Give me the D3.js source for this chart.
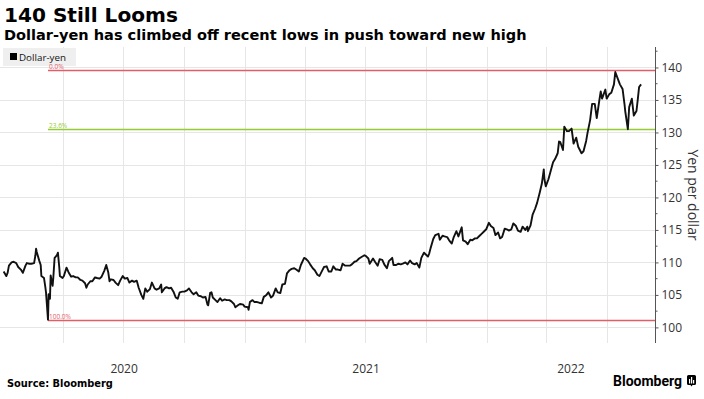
<!DOCTYPE html>
<html><head><meta charset="utf-8">
<script src="https://cdn.jsdelivr.net/npm/d3@7"></script>
<style>html,body{margin:0;padding:0;background:#fff;}svg{display:block;}</style>
</head><body>
<svg id="chart" width="704" height="399"></svg>
<script>
// ---- Data ----
const title = "140 Still Looms";
const subtitle = "Dollar-yen has climbed off recent lows in push toward new high";
const seriesName = "Dollar-yen";
const yAxisTitle = "Yen per dollar";
const source = "Source: Bloomberg";
const yTicks = [100, 105, 110, 115, 120, 125, 130, 135, 140];
const yearLabels = ["2020", "2021", "2022"];
const fibLevels = [139.6, 130.5, 101.18];
const fibLabels = ["0.0%", "23.6%", "100.0%"];
const fibStart = "2020-03-09";

const dollarYen = [
["2020-01-02",108.6],["2020-01-06",107.9],["2020-01-08",108.4],["2020-01-10",109.5],["2020-01-14",110.0],["2020-01-17",110.1],["2020-01-21",109.9],["2020-01-24",109.3],["2020-01-28",108.9],["2020-01-31",108.4],
["2020-02-04",109.5],["2020-02-06",109.9],["2020-02-10",109.8],["2020-02-13",109.8],["2020-02-17",109.9],["2020-02-19",111.1],["2020-02-20",112.1],["2020-02-21",111.6],["2020-02-25",110.2],["2020-02-27",109.6],["2020-02-28",107.9],
["2020-03-03",107.6],["2020-03-05",106.2],["2020-03-06",105.4],["2020-03-09",101.2],["2020-03-10",105.1],["2020-03-12",104.4],["2020-03-13",108.0],["2020-03-16",106.4],["2020-03-17",107.6],["2020-03-19",110.7],["2020-03-20",110.8],["2020-03-23",111.2],["2020-03-24",111.5],["2020-03-26",109.3],["2020-03-27",107.9],["2020-03-31",107.6],
["2020-04-02",107.9],["2020-04-06",109.2],["2020-04-09",108.5],["2020-04-13",107.8],["2020-04-16",107.9],["2020-04-20",107.7],["2020-04-23",107.7],["2020-04-27",107.3],["2020-04-30",107.2],
["2020-05-04",106.8],["2020-05-06",106.1],["2020-05-08",106.6],["2020-05-12",107.1],["2020-05-15",107.1],["2020-05-19",107.7],["2020-05-22",107.6],["2020-05-26",107.5],["2020-05-29",107.8],
["2020-06-02",108.7],["2020-06-05",109.6],["2020-06-08",108.5],["2020-06-10",107.1],["2020-06-12",107.4],["2020-06-16",107.3],["2020-06-19",106.9],["2020-06-23",106.5],["2020-06-26",107.2],["2020-06-30",107.9],
["2020-07-03",107.5],["2020-07-07",107.6],["2020-07-10",106.9],["2020-07-14",107.2],["2020-07-17",107.0],["2020-07-21",107.2],["2020-07-24",106.1],["2020-07-28",105.0],["2020-07-31",104.4],
["2020-08-03",106.0],["2020-08-06",105.5],["2020-08-10",105.9],["2020-08-13",106.9],["2020-08-17",106.0],["2020-08-20",105.8],["2020-08-24",106.0],["2020-08-27",106.6],["2020-08-28",105.4],
["2020-09-01",106.0],["2020-09-04",106.2],["2020-09-08",106.0],["2020-09-11",106.1],["2020-09-15",105.4],["2020-09-18",104.6],["2020-09-21",104.4],["2020-09-24",105.4],["2020-09-28",105.5],
["2020-10-01",105.5],["2020-10-05",105.7],["2020-10-08",106.0],["2020-10-12",105.4],["2020-10-15",105.1],["2020-10-19",105.4],["2020-10-22",104.9],["2020-10-26",104.8],["2020-10-29",104.6],
["2020-11-02",104.7],["2020-11-05",103.5],["2020-11-06",103.4],["2020-11-09",105.3],["2020-11-11",105.4],["2020-11-13",104.6],["2020-11-17",104.2],["2020-11-20",103.9],["2020-11-24",104.5],["2020-11-27",104.1],
["2020-12-01",104.3],["2020-12-04",104.2],["2020-12-08",104.2],["2020-12-11",104.0],["2020-12-15",103.6],["2020-12-17",103.1],["2020-12-21",103.4],["2020-12-24",103.6],["2020-12-29",103.5],["2020-12-31",103.2],
["2021-01-05",103.1],["2021-01-06",102.7],["2021-01-08",103.9],["2021-01-12",104.2],["2021-01-15",103.9],["2021-01-19",103.9],["2021-01-22",103.8],["2021-01-26",103.7],["2021-01-29",104.7],
["2021-02-02",105.0],["2021-02-05",105.4],["2021-02-09",104.6],["2021-02-12",104.9],["2021-02-16",106.0],["2021-02-19",105.4],["2021-02-23",105.3],["2021-02-26",106.6],
["2021-03-02",106.7],["2021-03-05",108.3],["2021-03-09",108.8],["2021-03-12",109.0],["2021-03-16",109.1],["2021-03-19",108.9],["2021-03-23",108.6],["2021-03-26",109.6],["2021-03-31",110.7],
["2021-04-02",110.6],["2021-04-06",110.2],["2021-04-09",109.7],["2021-04-13",109.1],["2021-04-16",108.8],["2021-04-20",108.1],["2021-04-23",107.9],["2021-04-27",108.7],["2021-04-30",109.3],
["2021-05-04",109.4],["2021-05-07",108.6],["2021-05-11",108.6],["2021-05-14",109.4],["2021-05-18",108.9],["2021-05-21",108.9],["2021-05-25",108.8],["2021-05-28",109.8],
["2021-06-01",109.5],["2021-06-04",109.5],["2021-06-08",109.5],["2021-06-11",109.7],["2021-06-15",110.1],["2021-06-18",110.2],["2021-06-22",110.6],["2021-06-25",110.8],["2021-06-30",111.1],
["2021-07-02",111.0],["2021-07-06",110.6],["2021-07-08",109.8],["2021-07-13",110.6],["2021-07-16",110.1],["2021-07-20",109.5],["2021-07-23",110.5],["2021-07-27",110.4],["2021-07-30",109.7],
["2021-08-03",109.1],["2021-08-06",110.2],["2021-08-11",110.7],["2021-08-13",109.6],["2021-08-17",109.6],["2021-08-20",109.8],["2021-08-24",109.7],["2021-08-27",109.8],["2021-08-31",110.0],
["2021-09-03",109.7],["2021-09-07",110.3],["2021-09-10",109.9],["2021-09-14",109.7],["2021-09-17",109.9],["2021-09-21",109.2],["2021-09-24",110.7],["2021-09-28",111.5],["2021-09-30",111.3],
["2021-10-04",110.9],["2021-10-06",111.4],["2021-10-08",112.2],["2021-10-12",113.6],["2021-10-15",114.2],["2021-10-20",114.4],["2021-10-22",113.5],["2021-10-26",114.1],["2021-10-29",114.0],
["2021-11-02",113.9],["2021-11-05",113.4],["2021-11-09",112.9],["2021-11-12",113.9],["2021-11-16",114.8],["2021-11-19",114.0],["2021-11-24",115.4],["2021-11-26",113.4],["2021-11-30",113.2],
["2021-12-03",112.8],["2021-12-07",113.5],["2021-12-10",113.4],["2021-12-14",113.7],["2021-12-17",113.7],["2021-12-21",114.1],["2021-12-24",114.4],["2021-12-28",114.8],["2021-12-31",115.1],
["2022-01-04",116.1],["2022-01-07",115.6],["2022-01-11",115.3],["2022-01-14",114.2],["2022-01-18",114.6],["2022-01-21",113.7],["2022-01-24",113.9],["2022-01-28",115.2],["2022-01-31",115.1],
["2022-02-03",114.9],["2022-02-07",115.1],["2022-02-10",116.0],["2022-02-14",115.6],["2022-02-17",114.9],["2022-02-21",114.7],["2022-02-24",115.5],["2022-02-28",115.0],
["2022-03-03",115.5],["2022-03-04",114.8],["2022-03-08",115.7],["2022-03-11",117.3],["2022-03-15",118.3],["2022-03-18",119.2],["2022-03-22",120.8],["2022-03-25",122.1],["2022-03-28",124.3],["2022-03-29",122.8],["2022-03-31",121.7],
["2022-04-04",122.8],["2022-04-07",123.9],["2022-04-11",125.4],["2022-04-14",125.9],["2022-04-18",126.8],["2022-04-20",128.6],["2022-04-22",128.5],["2022-04-26",127.3],["2022-04-28",130.9],
["2022-05-02",130.2],["2022-05-05",130.2],["2022-05-09",130.6],["2022-05-12",128.3],["2022-05-16",129.2],["2022-05-19",127.8],["2022-05-24",126.8],["2022-05-27",127.1],["2022-05-31",128.7],
["2022-06-02",129.9],["2022-06-06",131.9],["2022-06-09",134.4],["2022-06-13",134.4],["2022-06-16",132.2],["2022-06-20",135.0],["2022-06-22",136.3],["2022-06-24",135.2],["2022-06-29",136.6],
["2022-07-01",135.2],["2022-07-05",135.9],["2022-07-08",136.1],["2022-07-12",137.4],["2022-07-14",139.3],["2022-07-18",138.2],["2022-07-21",137.4],["2022-07-25",136.7],["2022-07-28",134.3],["2022-07-29",133.3],
["2022-08-02",130.5],["2022-08-04",133.9],["2022-08-08",135.2],["2022-08-11",132.6],["2022-08-15",133.3],["2022-08-17",135.1],["2022-08-19",137.0],["2022-08-22",137.4]
];

// ---- Layout ----
const svg = d3.select("#chart");
const parse = d3.timeParse("%Y-%m-%d");
const data = dollarYen.map(d => ({date: parse(d[0]), value: d[1]}));

const plotLeft = 0, plotRight = 655, plotTop = 47, plotBottom = 343;
const x = d3.scaleTime()
  .domain([new Date(2019, 11, 27, 12), new Date(2022, 8, 12)])
  .range([plotLeft, plotRight]);
const y = d3.scaleLinear().domain([97.6, 143.15]).range([plotBottom, plotTop]);

const sans = "'Open Sans', 'DejaVu Sans', sans-serif";
const headFont = "'DejaVu Sans', Verdana, sans-serif";

function fitWidth(sel, target) {
  const fs = parseFloat(sel.attr("font-size"));
  const w = sel.node().getComputedTextLength();
  sel.attr("font-size", (fs * target / w).toFixed(2));
}

// Title & subtitle
const t1 = svg.append("text").attr("x", 4).attr("y", 21.5)
  .attr("font-family", headFont).attr("font-weight", "bold").attr("font-size", 20)
  .attr("fill", "#000").text(title);
fitWidth(t1, 174);
const t2 = svg.append("text").attr("x", 4).attr("y", 40)
  .attr("font-family", headFont).attr("font-weight", "bold").attr("font-size", 15)
  .attr("fill", "#000").text(subtitle);
fitWidth(t2, 523);

// Gridlines
const grid = svg.append("g");
grid.selectAll("line.h").data(yTicks).join("line")
  .attr("x1", plotLeft).attr("x2", plotRight)
  .attr("y1", d => Math.round(y(d)) + 0.5).attr("y2", d => Math.round(y(d)) + 0.5)
  .attr("stroke", "#e6e6e6").attr("stroke-width", 1);
const quarters = d3.timeMonth.every(3).range(new Date(2020, 3, 1), x.domain()[1]);
grid.selectAll("line.v").data(quarters).join("line")
  .attr("x1", d => Math.round(x(d)) + 0.5).attr("x2", d => Math.round(x(d)) + 0.5)
  .attr("y1", plotTop).attr("y2", plotBottom)
  .attr("stroke", "#e6e6e6").attr("stroke-width", 1);

// Legend (drawn before the fib labels)
svg.append("rect").attr("x", 3).attr("y", 48).attr("width", 73).attr("height", 18).attr("fill", "#efefef");
svg.append("rect").attr("x", 10).attr("y", 53).attr("width", 7).attr("height", 7).attr("fill", "#000");
const lt = svg.append("text").attr("x", 19).attr("y", 60.5).attr("font-family", sans)
  .attr("font-size", 10).attr("fill", "#111").text(seriesName);
fitWidth(lt, 47);

// Fibonacci lines
const fibColors = ["#e35d67", "#95cc35", "#e35d67"];
const fibG = svg.append("g");
fibLevels.forEach((lv, i) => {
  const yy = Math.round(y(lv)) + 0.5;
  fibG.append("line").attr("x1", x(parse(fibStart))).attr("x2", plotRight)
    .attr("y1", yy).attr("y2", yy).attr("stroke", fibColors[i]).attr("stroke-width", i === 1 ? 1.7 : 1.3);
  fibG.append("text").attr("x", x(parse(fibStart)) + 1).attr("y", yy - 1.5)
    .attr("font-family", sans).attr("font-size", 6.5).attr("fill", fibColors[i]).text(fibLabels[i]);
});

// Series line
svg.append("path").datum(data)
  .attr("fill", "none").attr("stroke", "#111").attr("stroke-width", 1.9)
  .attr("stroke-linejoin", "round")
  .attr("d", d3.line().x(d => x(d.date)).y(d => y(d.value)));

// Right axis
const minorTicks = d3.range(97.5, 143.5, 2.5).filter(v => v >= y.domain()[0] && v <= y.domain()[1] && v % 5 !== 0);
const axisG = svg.append("g").attr("transform", `translate(${plotRight + 0.5},0)`);
axisG.call(d3.axisRight(y).tickValues(yTicks).tickSize(3).tickPadding(3).tickFormat(d3.format("d")));
axisG.select(".domain").attr("stroke", "#555").attr("d", `M0,${plotTop}V${plotBottom}`);
axisG.selectAll(".tick line").attr("stroke", "#555");
axisG.selectAll(".tick text").attr("font-family", sans).attr("font-size", 12).attr("fill", "#333");
axisG.selectAll("line.minor").data(minorTicks).join("line").attr("class", "minor")
  .attr("x1", 0).attr("x2", 2).attr("y1", d => y(d)).attr("y2", d => y(d)).attr("stroke", "#555");

svg.append("text")
  .attr("transform", `translate(${688},${(plotTop + plotBottom) / 2}) rotate(90)`)
  .attr("text-anchor", "middle").attr("font-family", sans).attr("font-size", 14)
  .attr("fill", "#333").text(yAxisTitle);

// Year labels centered on each year's span
yearLabels.forEach(yr => {
  const a = Math.max(x(new Date(+yr, 0, 1)), plotLeft);
  const b = Math.min(x(new Date(+yr + 1, 0, 1)), plotRight);
  svg.append("text").attr("x", (a + b) / 2).attr("y", 372.5).attr("text-anchor", "middle")
    .attr("font-family", sans).attr("font-size", 12).attr("fill", "#333").text(yr);
});

// Footer
const st = svg.append("text").attr("x", 7).attr("y", 387).attr("font-family", headFont)
  .attr("font-weight", "bold").attr("font-size", 11).attr("fill", "#000").text(source);
fitWidth(st, 106);
const bt = svg.append("text").attr("x", 613).attr("y", 385.5).attr("font-family", "Roboto, 'Liberation Sans', sans-serif")
  .attr("font-weight", "bold").attr("font-size", 14).attr("fill", "#000").text("Bloomberg");
fitWidth(bt, 69);
const icon = svg.append("g").attr("transform", "translate(687,375)");
icon.append("path").attr("d", "M0,1.5Q0,0 1.5,0H7.5Q9,0 9,1.5V8.5Q9,10 7.5,10H5.5L4.5,11.5L3.5,10H1.5Q0,10 0,8.5Z").attr("fill", "#000");
icon.append("rect").attr("x", 2).attr("y", 4).attr("width", 1.2).attr("height", 4.5).attr("fill", "#fff");
icon.append("rect").attr("x", 4).attr("y", 2).attr("width", 1.2).attr("height", 6.5).attr("fill", "#fff");
icon.append("rect").attr("x", 6).attr("y", 5).attr("width", 1.2).attr("height", 3.5).attr("fill", "#fff");
</script>
</body></html>
